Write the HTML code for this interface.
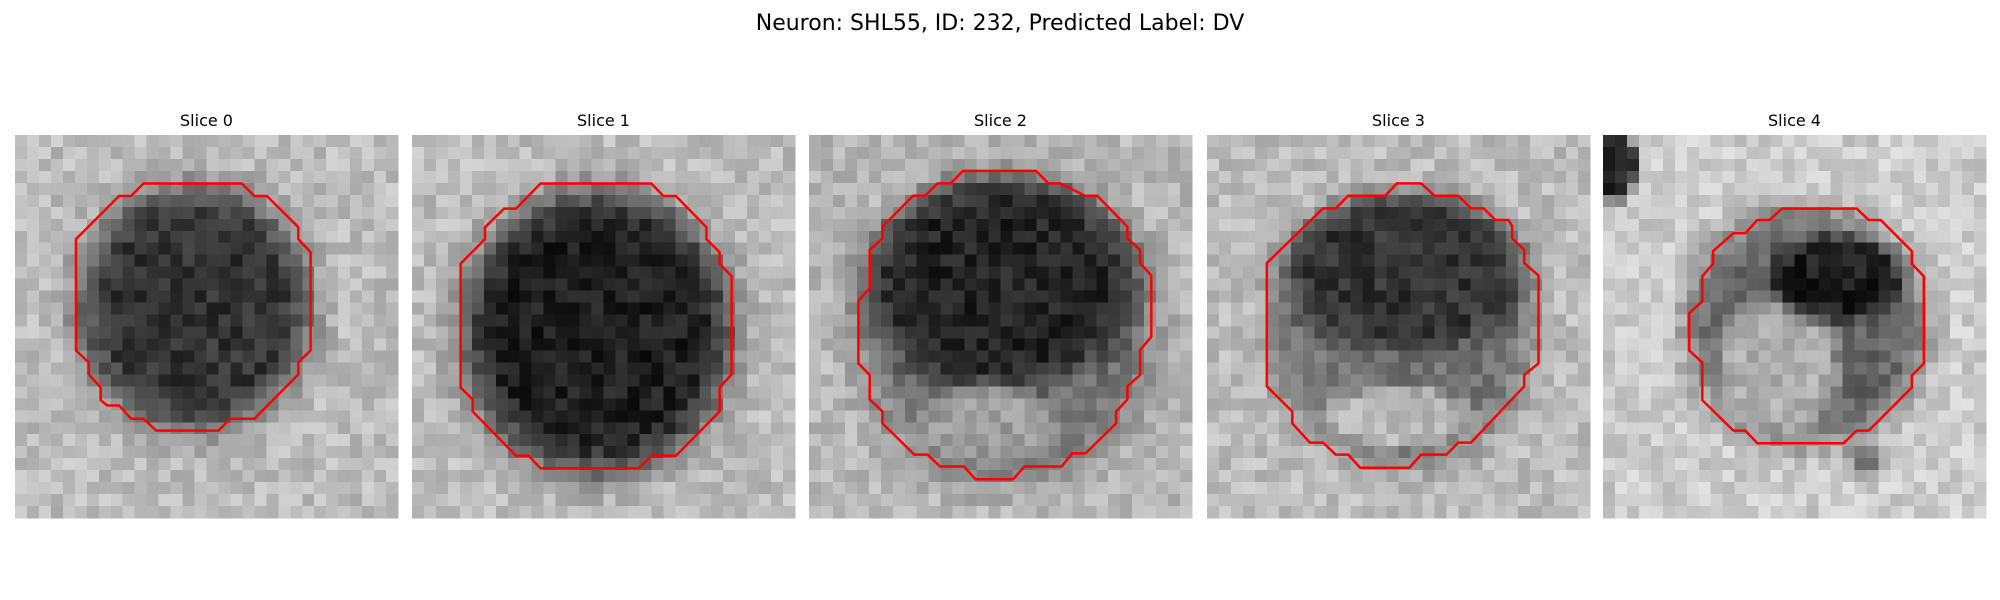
<!DOCTYPE html>
<html><head><meta charset="utf-8">
<style>
html,body{margin:0;padding:0;background:#fff;}
svg{display:block;}
text{font-family:"DejaVu Sans","Liberation Sans",sans-serif;fill:#000;}
</style></head>
<body>
<svg id="fig" width="2000" height="600" viewBox="0 0 2000 600">
<text x="1000" y="30" text-anchor="middle" font-size="22">Neuron: SHL55, ID: 232, Predicted Label: DV</text>
</svg>
<script>
// Panel data
const sliceTitles = ["Slice 0","Slice 1","Slice 2","Slice 3","Slice 4"];
const panelLefts = [15, 412, 809, 1207, 1603];
// Blob layers per slice: [cx, cy, rx, ry, gray] in cell units (32x32 grid)
const blobs0 = [[15,14.5,10.5,11,0.5],[15,14.5,9,9.5,0.2]];
const blobs1 = [[15.5,16.5,12,12.5,0.45],[15.5,16.5,10.5,11,0.12]];
const blobs2 = [[16.5,16,12.5,13,0.45],[16,12.5,11,8.5,0.14],[15,24,5.5,3,0.62]];
const blobs3 = [[16.3,16.5,11,11,0.45],[16.5,11.5,10,6.5,0.2],[16,23.5,6,2.5,0.72]];
const blobs4 = [[17,16,10,10,0.4],[14.5,19.5,5,5.5,0.68],[19.5,12,5.5,3.5,0.12],[1,2.5,1.8,3,0.15],[22,27,1.5,1.5,0.45]];
const allBlobs = [blobs0, blobs1, blobs2, blobs3, blobs4];
// Contours (cell units)
const contour0 = [[10.74,4.05],[18.95,4.05],[20,5.1],[21.05,5.1],[23.67,7.7],[23.67,8.7],[24.7,9.8],[24.7,18],[23.67,19],[23.67,20],[20,23.7],[18,23.7],[17,24.7],[11.8,24.7],[10.74,23.7],[9.7,23.7],[8.7,22.6],[7.7,22.6],[7.16,22.15],[7.16,21.1],[6.16,20],[6.16,19],[5.1,18],[5.1,8.7],[8.7,5.1],[9.7,5.1]];
const contour1 = [[10.74,4.05],[20,4.05],[21,5.1],[22.05,5.1],[24.6,7.7],[24.6,8.7],[25.7,9.8],[25.7,10.75],[26.7,11.8],[26.7,20],[25.7,21.1],[25.7,23.1],[22.05,26.8],[20,26.8],[18.95,27.85],[10.74,27.85],[9.74,26.8],[8.7,26.8],[5.07,23.1],[5.07,22.1],[4.06,21.1],[4.06,10.75],[6.1,8.7],[6.1,7.7],[7.7,6.15],[8.7,6.15]];
const contour2 = [[12.87,3],[18.97,3],[20,4.04],[21,4.04],[23.06,5.07],[24.08,5.07],[26.6,7.66],[26.6,8.64],[27.66,9.6],[27.66,10.7],[28.6,11.75],[28.6,16.85],[27.66,17.97],[27.66,20.05],[26.6,21],[26.6,22.1],[25.66,23.1],[25.66,24.1],[23.1,26.6],[22,26.6],[21.1,27.7],[18,27.7],[17.05,28.77],[13.9,28.77],[12.96,27.7],[10.95,27.7],[9.9,26.7],[8.8,26.7],[6.14,24.1],[6.14,23.1],[5.07,22.1],[5.07,20.05],[4.13,19.08],[4.13,13.84],[5.07,12.8],[5.07,9.6],[6.14,8.64],[6.14,7.66],[8.7,5.07],[9.7,5.07],[10.74,4.04],[11.85,4.04]];
const contour3 = [[15.87,4.04],[17.9,4.04],[19,5.07],[21,5.07],[22.06,6.13],[23.1,6.13],[24.1,7.1],[25.2,7.1],[25.5,7.66],[25.5,8.64],[26.5,9.6],[26.5,10.7],[27.7,11.75],[27.7,19.08],[26.5,20.05],[26.5,21],[22.06,25.7],[21,25.7],[20,26.7],[17.9,26.7],[16.9,27.8],[12.8,27.8],[11.8,26.7],[10.75,26.7],[9.7,25.7],[8.6,25.7],[7.13,24.1],[7.13,23.1],[5,21],[5,10.7],[9.7,6.13],[10.75,6.13],[11.8,5.07],[14.9,5.07]];
const contour4 = [[14.97,6.15],[21.2,6.15],[22.2,7.1],[23.2,7.1],[25.8,9.7],[25.8,10.75],[26.8,11.8],[26.8,19.1],[25.8,20.1],[25.8,21.1],[22.2,24.7],[21.2,24.7],[20.1,25.75],[12.9,25.75],[11.9,24.7],[10.9,24.7],[8.3,22.15],[8.3,19],[7.2,18],[7.2,14.9],[8.3,13.9],[8.3,11.8],[9.2,10.75],[9.2,9.7],[10.9,8.2],[11.9,8.2],[12.9,7.1],[13.9,7.1]];
const allContours = [contour0, contour1, contour2, contour3, contour4];
const bgLevels = [0.74, 0.74, 0.72, 0.74, 0.8];

const NS = "http://www.w3.org/2000/svg";
const svg = document.getElementById('fig');
const N = 32, TOP = 135, SIZE = 383, CELL = SIZE / N;
function hash(i, j, k) {
  let h = (i * 374761393 + j * 668265263 + k * 2147483647) | 0;
  h = (h ^ (h >>> 13)) * 1274126177 | 0;
  h = h ^ (h >>> 16);
  return ((h >>> 0) % 1000) / 1000;
}
function smooth(d) { if (d <= 0.75) return 1; if (d >= 1.25) return 0; const t = (1.25 - d) / 0.5; return t * t * (3 - 2 * t); }
sliceTitles.forEach((title, p) => {
  const g = document.createElementNS(NS, 'g');
  
  
  g.setAttribute('transform', 'translate(' + panelLefts[p] + ',' + TOP + ')');
  svg.appendChild(g);
  const t = document.createElementNS(NS, 'text');
  
  
  t.setAttribute('x', SIZE / 2); t.setAttribute('y', -9);
  t.setAttribute('text-anchor', 'middle'); t.setAttribute('font-size', '16');
  t.textContent = title;
  g.appendChild(t);
  const img = document.createElementNS(NS, 'g');
  
  
  img.setAttribute('shape-rendering', 'crispEdges');
  g.appendChild(img);
  for (let j = 0; j < N; j++) for (let i = 0; i < N; i++) {
    let v = bgLevels[p];
    const cx = i + 0.5, cy = j + 0.5;
    allBlobs[p].forEach(b => {
      const d = Math.hypot((cx - b[0]) / b[2], (cy - b[1]) / b[3]);
      const a = smooth(d);
      v = v * (1 - a) + b[4] * a;
    });
    v += (hash(i, j, p + 1) - 0.5) * 0.18;
    v = Math.max(0, Math.min(1, v));
    const c = Math.round(v * 255);
    const r = document.createElementNS(NS, 'rect');
    r.setAttribute('x', (i * CELL).toFixed(2)); r.setAttribute('y', (j * CELL).toFixed(2));
    r.setAttribute('width', (CELL + 0.6).toFixed(2)); r.setAttribute('height', (CELL + 0.6).toFixed(2));
    r.setAttribute('fill', 'rgb(' + c + ',' + c + ',' + c + ')');
    img.appendChild(r);
  }
  const poly = document.createElementNS(NS, 'polygon');
  
  
  poly.setAttribute('points', allContours[p].map(pt => (pt[0] * CELL).toFixed(1) + ',' + (pt[1] * CELL).toFixed(1)).join(' '));
  poly.setAttribute('fill', 'none');
  poly.setAttribute('stroke', '#ff0000');
  poly.setAttribute('stroke-width', '2.5');
  poly.setAttribute('stroke-linejoin', 'miter');
  g.appendChild(poly);
});
</script>
</body></html>
